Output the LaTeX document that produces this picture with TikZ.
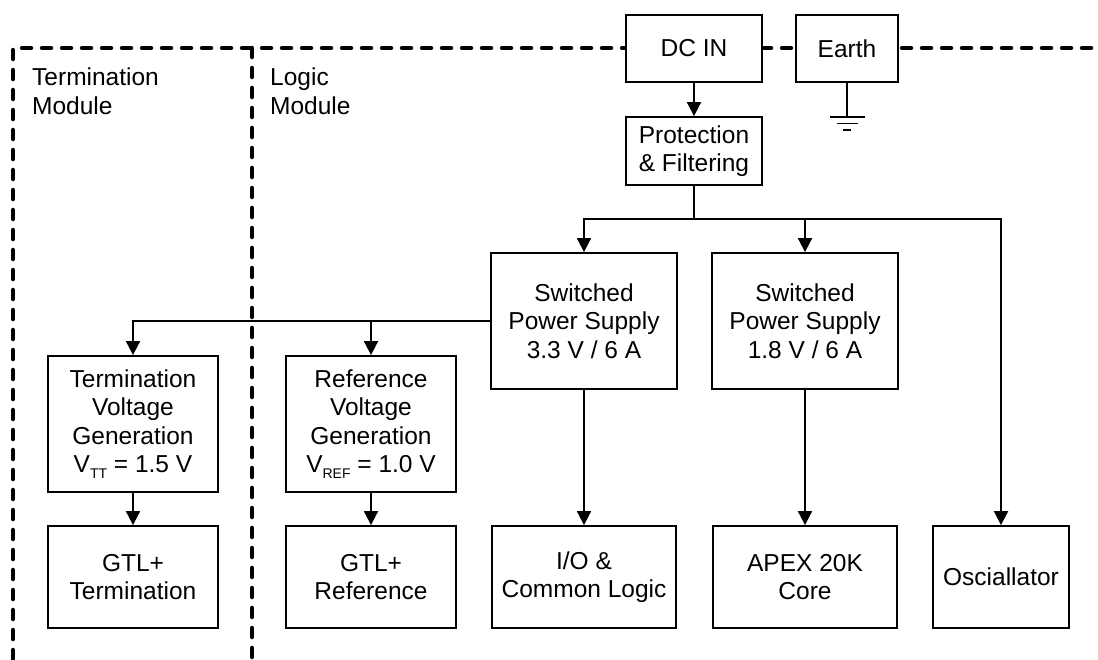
\documentclass[tikz,border=0pt]{standalone}
\usepackage{fontspec}
\setmainfont{Liberation Sans}
\usetikzlibrary{arrows.meta,positioning}
\newcommand{\lowsub}[1]{\raisebox{-6pt}{\fontsize{14}{14}\selectfont #1}}

\begin{document}
\begin{tikzpicture}[
  x=1pt, y=-1pt,
  font=\fontsize{24.5}{28.5}\selectfont,
  block/.style={draw, line width=1.8pt, fill=white, align=center, inner sep=0pt},
  module/.style={line width=4.5pt, dash pattern=on 9pt off 11pt, line cap=round},
  wire/.style={line width=1.8pt},
  arrow/.style={wire, -{Triangle[length=14pt,width=14pt]}},
  tag/.style={align=left, anchor=north west, inner sep=0pt}
]
  \useasboundingbox (0,0) rectangle (1098,659);

  % module boundaries
  \draw[module] (13,659) -- (13,48) -- (1098,48);
  \draw[module] (252,48) -- (252,659);
  \node[tag] (termmod) at (32,68) {Termination\\Module};
  \node[tag] (logicmod) at (270,68) {Logic\\Module};

  % input and earth
  \node[block, minimum width=136pt, minimum height=67pt] (dcin) at (694,48.5) {DC IN};
  \node[block, minimum width=102pt, minimum height=67pt] (earth) at (847,48.5) {Earth};
  \node[block, minimum width=136pt, minimum height=68pt] (prot) at (694,151) {Protection\\\& Filtering};
  \coordinate (gnd) at (847,117);

  % supplies
  \node[block, minimum width=186pt, minimum height=136pt] (sps33) at (584,321) {Switched\\Power Supply\\3.3 V / 6 A};
  \node[block, minimum width=186pt, minimum height=136pt] (sps18) at (805,321) {Switched\\Power Supply\\1.8 V / 6 A};
  \node[block, minimum width=170pt, minimum height=136pt] (vtt) at (133,424) {Termination\\Voltage\\Generation\\V\lowsub{TT} = 1.5 V};
  \node[block, minimum width=170pt, minimum height=136pt] (vref) at (371,424) {Reference\\Voltage\\Generation\\V\lowsub{REF} = 1.0 V};

  % loads
  \node[block, minimum width=170pt, minimum height=102pt] (gtlterm) at (133,577) {GTL+\\Termination};
  \node[block, minimum width=170pt, minimum height=102pt] (gtlref) at (371,577) {GTL+\\Reference};
  \node[block, minimum width=184pt, minimum height=102pt] (iologic) at (584,577) {I/O \&\\Common Logic};
  \node[block, minimum width=184pt, minimum height=102pt] (apex) at (805,577) {APEX 20K\\Core};
  \node[block, minimum width=136pt, minimum height=102pt] (osc) at (1001,577) {Osciallator};

  % connections
  \coordinate (split) at (694,219);
  \draw[arrow] (dcin) -- (prot);
  \draw[wire] (prot.south) -- (split);
  \draw[arrow] (split) -| (sps33.north);
  \draw[arrow] (split) -| (sps18.north);
  \draw[arrow] (split) -| (osc.north);
  \draw[arrow] (sps33.west) -| (vtt.north);
  \draw[arrow] (sps33.west -| vref.north) -- (vref.north);
  \draw[arrow] (vtt) -- (gtlterm);
  \draw[arrow] (vref) -- (gtlref);
  \draw[arrow] (sps33) -- (iologic);
  \draw[arrow] (sps18) -- (apex);

  % earth symbol
  \draw[wire] (earth.south) -- (gnd);
  \draw[wire] ([xshift=-17pt]gnd) -- ([xshift=18pt]gnd);
  \draw[wire] ([xshift=-10pt,yshift=-6.5pt]gnd) -- ([xshift=11pt,yshift=-6.5pt]gnd);
  \draw[wire] ([xshift=-4pt,yshift=-13pt]gnd) -- ([xshift=4pt,yshift=-13pt]gnd);
\end{tikzpicture}
\end{document}
